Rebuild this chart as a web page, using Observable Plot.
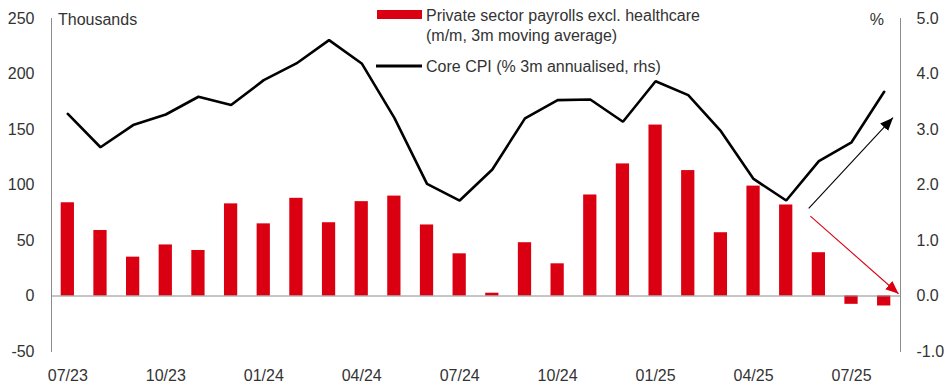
<!DOCTYPE html>
<html>
<head>
<meta charset="utf-8">
<script src="https://cdn.jsdelivr.net/npm/d3@7"></script>
<script src="https://cdn.jsdelivr.net/npm/@observablehq/plot@0.6"></script>
<style>
  html, body { margin: 0; padding: 0; background: #fff; }
  #chart { width: 948px; height: 390px; }
</style>
</head>
<body>
<div id="chart"></div>
<script>
// ---- Data ----
const months = ["07/23","08/23","09/23","10/23","11/23","12/23","01/24","02/24","03/24","04/24","05/24","06/24",
                "07/24","08/24","09/24","10/24","11/24","12/24","01/25","02/25","03/25","04/25","05/25","06/25","07/25","08/25"];
// Private sector payrolls excl. healthcare, thousands (m/m, 3m moving average)
const payrolls = [84, 59, 35, 46, 41, 83, 65, 88, 66, 85, 90, 64, 38, 2.5, 48, 29, 91, 119, 154, 113, 57, 99, 82, 39, -7.5, -9];
// Core CPI, % 3m annualised (rhs)
const cpi = [3.28, 2.68, 3.08, 3.27, 3.59, 3.44, 3.89, 4.19, 4.61, 4.19, 3.21, 2.02, 1.72, 2.28, 3.20, 3.53, 3.54, 3.14, 3.87, 3.62, 2.97, 2.11, 1.72, 2.43, 2.77, 3.68];
// Axis ticks
const leftTicks = [-50, 0, 50, 100, 150, 200, 250];
const rightTicks = [-1, 0, 1, 2, 3, 4, 5];
const xTickLabels = ["07/23","10/23","01/24","04/24","07/24","10/24","01/25","04/25","07/25"];
// Annotation arrows (month index, thousands)
const arrowFrom = [[22.69, 79], [22.74, 72]];
const arrowTo = [[25.27, 160.6], [25.44, 2]];
const arrowColors = ["#000000", "#db0011"];
const legendLabels = ["Private sector payrolls excl. healthcare", "(m/m, 3m moving average)", "Core CPI (% 3m annualised, rhs)"];

// ---- Derived tables ----
const ratio = 50; // 1 pt (rhs) = 50 thousands (lhs)
const data = months.map((m, i) => ({i, month: m, payrolls: payrolls[i], cpi: cpi[i]}));
const arrows = arrowFrom.map((f, k) => ({x1: f[0], y1: f[1], x2: arrowTo[k][0], y2: arrowTo[k][1], color: arrowColors[k]}));
const xTickIdx = xTickLabels.map(l => months.indexOf(l));

function filledArrow(color) {
  const ns = "http://www.w3.org/2000/svg";
  const m = document.createElementNS(ns, "marker");
  m.setAttribute("viewBox", "0 -5 12 10");
  m.setAttribute("refX", "12");
  m.setAttribute("refY", "0");
  m.setAttribute("markerWidth", "13");
  m.setAttribute("markerHeight", "11");
  m.setAttribute("markerUnits", "userSpaceOnUse");
  m.setAttribute("orient", "auto");
  const p = document.createElementNS(ns, "path");
  p.setAttribute("d", "M0,-5L12,0L0,5Z");
  p.setAttribute("fill", color);
  m.appendChild(p);
  return m;
}

const font = "'Liberation Sans', Arial, sans-serif";
const textColor = "#333";
const axisColor = "#8c8c8c";

const plot = Plot.plot({
  width: 948,
  height: 390,
  marginLeft: 51,
  marginRight: 48,
  marginTop: 18,
  marginBottom: 39,
  style: {fontSize: "16px", fontFamily: font, color: textColor, background: "#fff"},
  x: {type: "linear", domain: [-0.5, months.length - 0.5]},
  y: {domain: [-50, 250]},
  marks: [
    Plot.rectY(data, {x1: d => d.i - 0.5, x2: d => d.i + 0.5, y: "payrolls", fill: "#db0011", insetLeft: 9.7, insetRight: 9.7}),
    Plot.ruleY([0], {stroke: axisColor, strokeWidth: 1}),
    Plot.frame({anchor: "left", stroke: axisColor}),
    Plot.frame({anchor: "right", stroke: axisColor}),
    Plot.line(data, {x: "i", y: d => d.cpi * ratio, stroke: "#000", strokeWidth: 2.6, strokeLinejoin: "miter"}),
    Plot.link(arrows, {x1: "x1", y1: "y1", x2: "x2", y2: "y2", stroke: "color", strokeWidth: 1.1, markerEnd: filledArrow}),
    Plot.axisY({anchor: "left", ticks: leftTicks, tickSize: 0, tickPadding: 17, tickFormat: d => String(d), label: null}),
    Plot.axisY({anchor: "right", ticks: rightTicks.map(v => v * ratio), tickSize: 0, tickPadding: 16,
                tickFormat: d => (d / ratio).toFixed(1), label: null}),
    Plot.axisX({ticks: xTickIdx, tickSize: 0, tickPadding: 18, tickFormat: i => months[i], label: null})
  ]
});

document.getElementById("chart").appendChild(plot);

// ---- Legend & unit labels (drawn into the same SVG) ----
const svg = d3.select(plot);
const g = svg.append("g").attr("font-family", font).attr("font-size", 16).attr("fill", textColor).attr("text-anchor", "start");
g.append("text").attr("x", 58).attr("y", 24.5).text("Thousands");
g.append("text").attr("x", 884).attr("y", 24.5).attr("text-anchor", "end").text("%");
g.append("rect").attr("x", 377).attr("y", 10).attr("width", 45).attr("height", 9).attr("fill", "#db0011");
g.append("text").attr("x", 426).attr("y", 20.5).text(legendLabels[0]);
g.append("text").attr("x", 426).attr("y", 41).text(legendLabels[1]);
g.append("line").attr("x1", 376).attr("x2", 422).attr("y1", 66).attr("y2", 66).attr("stroke", "#000").attr("stroke-width", 3);
g.append("text").attr("x", 426).attr("y", 72).text(legendLabels[2]);
</script>
</body>
</html>
